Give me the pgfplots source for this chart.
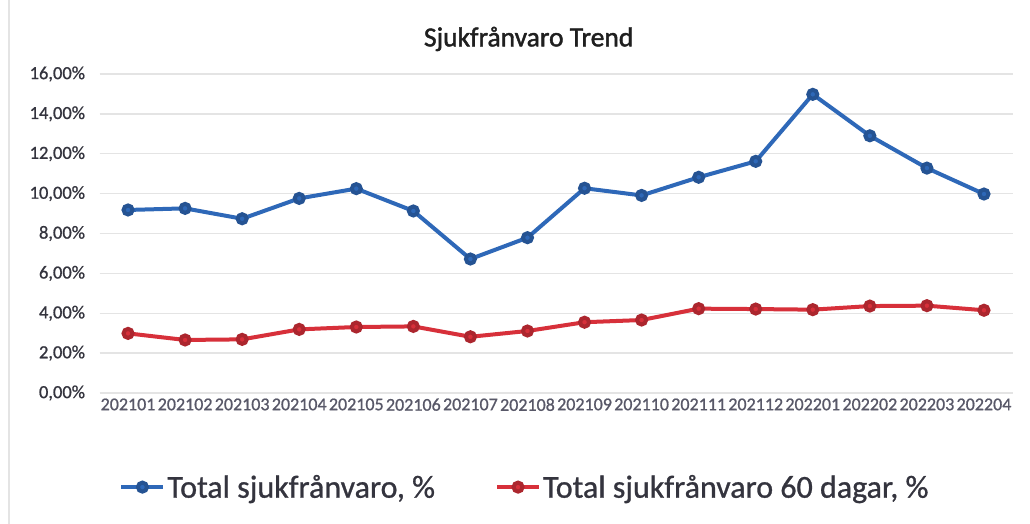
\documentclass[border=0pt]{standalone}
\usepackage{fontspec}
\setmainfont{Carlito}
\newfontfamily\semib[RawFeature={embolden=0.9}]{Carlito}
\newfontfamily\titlef[RawFeature={embolden=1.6}]{Carlito}
\usepackage{pgfplots}
\pgfplotsset{compat=1.18}
\definecolor{cblue}{HTML}{2E68B8}
\definecolor{cred}{HTML}{D7303A}
\definecolor{cgrid}{HTML}{E4E4E4}
\definecolor{ctxt}{HTML}{34343E}
\definecolor{cxt}{HTML}{585868}
\begin{document}
\begin{tikzpicture}[x=1pt,y=1pt]
\useasboundingbox (0,0) rectangle (1030,524);
\fill[white] (0,0) rectangle (1030,524);
\draw[cgrid, line width=1.2pt] (9,0) -- (9,524);
\begin{axis}[
  at={(99.5pt,131pt)}, anchor=south west,
  scale only axis, width=913pt, height=319pt,
  xmin=-0.5, xmax=15.5, ymin=0, ymax=16,
  axis line style={draw=none},
  xtick={0,...,15},
  xticklabels={202101,202102,202103,202104,202105,202106,202107,202108,202109,202110,202111,202112,202201,202202,202203,202204},
  ytick={0,2,...,16},
  yticklabels={0{,}00\%,2{,}00\%,4{,}00\%,6{,}00\%,8{,}00\%,10{,}00\%,12{,}00\%,14{,}00\%,16{,}00\%},
  tick style={draw=none},
  ymajorgrids, grid style={cgrid, line width=1.3pt},
  yticklabel style={font=\semib\fontsize{18.5}{20}\selectfont, text=ctxt, xshift=-11pt},
  xticklabel style={font=\semib\fontsize{18}{20}\selectfont, text=cxt, yshift=-2pt, inner xsep=0pt},
  title={Sjukfrånvaro Trend},
  title style={at={(0.470,1.091)}, anchor=center, font=\titlef\fontsize{27.5}{30}\selectfont, text=black!88},
  legend columns=2,
  legend style={draw=none, fill=none, at={(0.466,-0.295)}, anchor=center,
    font=\semib\fontsize{32}{38}\selectfont, text=ctxt,
    /tikz/every even column/.append style={column sep=58pt},
    cells={anchor=west, inner xsep=2pt}},
  legend image code/.code={\draw[mark repeat=2,mark phase=2,#1] plot coordinates {(0pt,0pt) (21pt,0pt) (42pt,0pt)};},
  every axis plot/.append style={line width=4pt, mark=*, mark size=4.5pt, mark options={line width=1pt}},
]
\addplot[cblue, mark options={fill=cblue, draw=cblue!80!black}] coordinates {
(0,9.18) (1,9.26) (2,8.74) (3,9.76) (4,10.25) (5,9.13) (6,6.72) (7,7.79)
(8,10.27) (9,9.91) (10,10.82) (11,11.62) (12,14.98) (13,12.90) (14,11.28) (15,9.98)};
\addlegendentry{Total sjukfrånvaro, \%}
\addplot[cred, mark options={fill=cred, draw=cred!80!black}] coordinates {
(0,2.99) (1,2.66) (2,2.69) (3,3.19) (4,3.31) (5,3.34) (6,2.82) (7,3.11)
(8,3.55) (9,3.66) (10,4.23) (11,4.21) (12,4.18) (13,4.36) (14,4.38) (15,4.15)};
\addlegendentry{Total sjukfrånvaro 60 dagar, \%}
\end{axis}
\end{tikzpicture}
\end{document}
